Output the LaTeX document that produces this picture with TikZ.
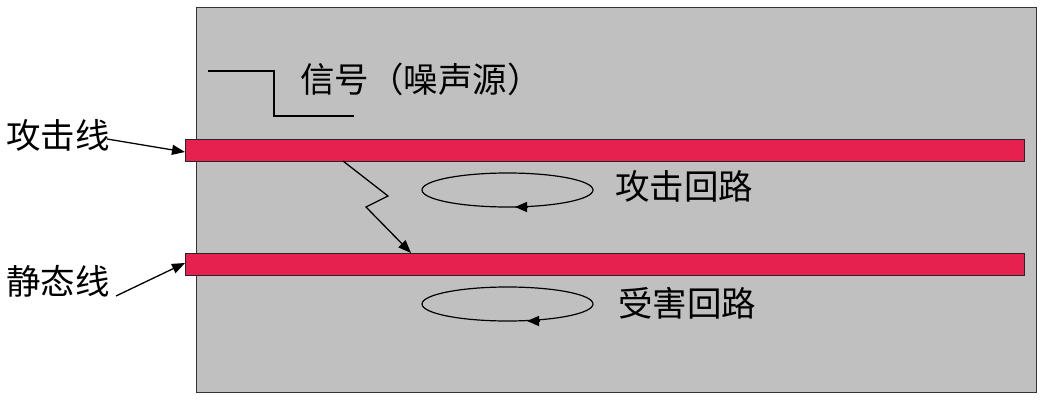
\documentclass[tikz,border=0pt]{standalone}
\usepackage{fontspec}
\newfontfamily\cjk{Noto Sans CJK SC}
\usetikzlibrary{arrows.meta}
\definecolor{boardgray}{HTML}{C0C0C0}
\definecolor{stripred}{HTML}{E6214F}
\begin{document}
\begin{tikzpicture}[x=1pt,y=-1pt,
  lbl/.style={font=\cjk\fontsize{34.5}{40}\selectfont, inner sep=0pt, anchor=west},
  strip/.style={draw=black!85, fill=stripred, line width=0.8pt},
  wire/.style={draw=black, line width=1.3pt},
  arr/.style={wire, -{Triangle[length=13pt,width=10pt]}},
  loopline/.style={draw=black, line width=1.2pt}]
\useasboundingbox (0,0) rectangle (1041,401);
% board
\filldraw[fill=boardgray, draw=black!80, line width=0.9pt] (196,7) rectangle (1036,392);
% strips
\path[strip] (185,139) rectangle (1024,161);
\node[inner sep=0pt, minimum width=839pt, minimum height=22pt] (aggr) at (604.5,150) {};
\path[strip] (185,253) rectangle (1024,275);
\node[inner sep=0pt, minimum width=839pt, minimum height=22pt] (vict) at (604.5,264) {};
% signal step
\coordinate (s0) at (208,71);
\coordinate (s1) at (274,71);
\coordinate (s2) at (274,116);
\coordinate (s3) at (354,116);
\draw[wire] (s0) -- (s1) -- (s2) -- (s3);
\node[lbl] (sig) at (300,79) {信号（噪声源）};
% labels
\node[lbl] (gjx) at (6,135) {攻击线};
\node[lbl] (jtx) at (6,281) {静态线};
\coordinate (ga) at (107,139);
\coordinate (gb) at (185,152);
\draw[arr] (ga) -- (gb);
\coordinate (ja) at (116,296);
\coordinate (jb) at (185,263);
\draw[arr] (ja) -- (jb);
% zigzag coupling
\coordinate (z0) at (343,161);
\coordinate (z1) at (388,196);
\coordinate (z2) at (366,207);
\coordinate (z3) at (411,253);
\draw[arr] (z0) -- (z1) -- (z2) -- (z3);
% loops
\draw[loopline] (507.5,190) ellipse [x radius=85.5, y radius=17];
\coordinate (t1a) at (527,207);
\coordinate (t1b) at (515,207);
\draw[loopline, -{Triangle[length=12pt,width=10pt]}] (t1a) -- (t1b);
\node[lbl] (agl) at (615,186) {攻击回路};
\draw[loopline] (507.5,304) ellipse [x radius=85.5, y radius=17];
\coordinate (t2a) at (539,321);
\coordinate (t2b) at (527,321);
\draw[loopline, -{Triangle[length=12pt,width=10pt]}] (t2a) -- (t2b);
\node[lbl] (vcl) at (618,303) {受害回路};
\end{tikzpicture}
\end{document}
